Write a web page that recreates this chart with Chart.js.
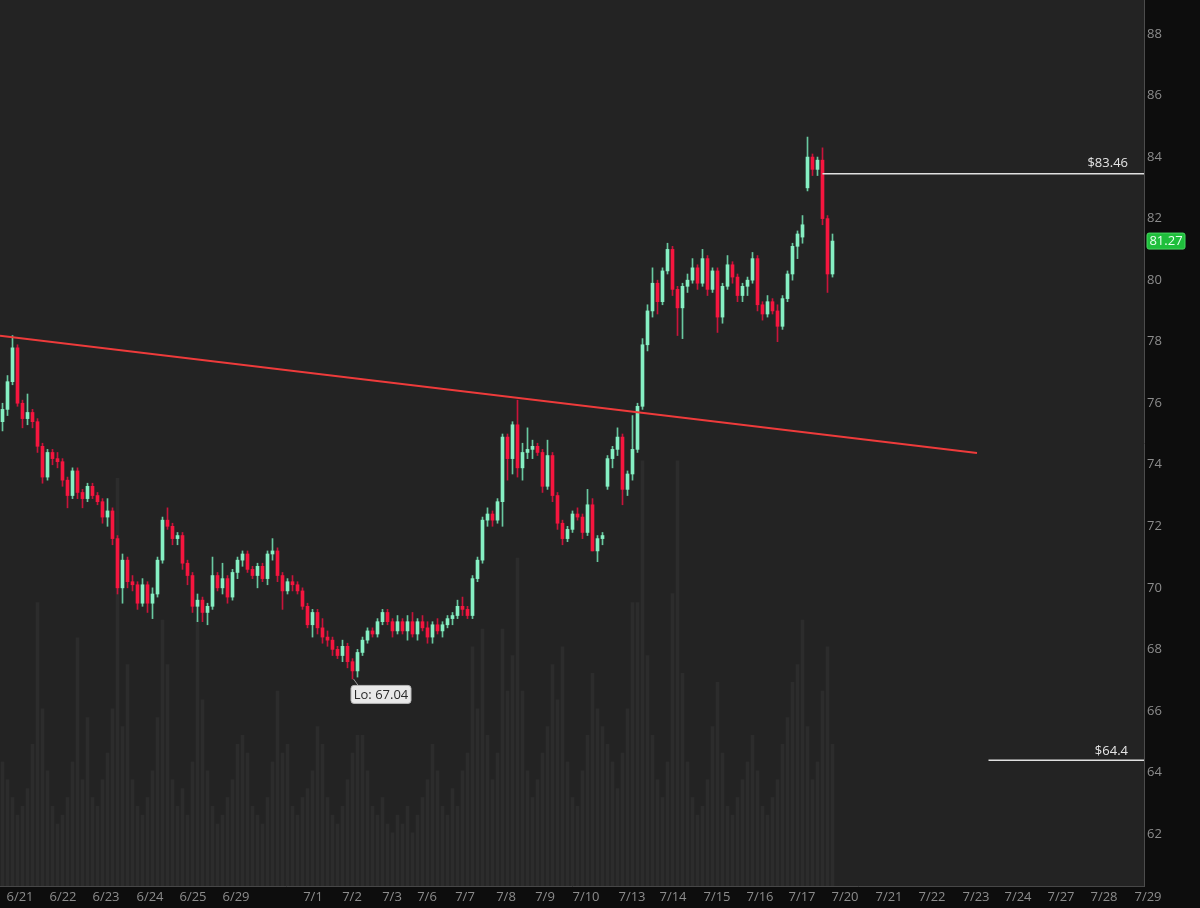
<!DOCTYPE html>
<html>
<head>
<meta charset="utf-8">
<title>Price chart</title>
<script src="https://cdn.jsdelivr.net/npm/chart.js@4.4.1/dist/chart.umd.min.js"></script>
<style>
  html, body { margin: 0; padding: 0; background: #0d0d0d; }
  #wrap { width: 1200px; height: 908px; position: relative; }
</style>
</head>
<body>
<div id="wrap"><canvas id="priceChart"></canvas></div>
<script>
// Candles (one per bar)
var opens = [
  75.4, 75.8, 76.7, 77.8, 76.0, 75.5, 75.7, 75.4, 74.6, 73.6,
  74.4, 74.2, 74.1, 73.5, 73.0, 73.8, 73.1, 72.9, 73.3, 73.0,
  72.8, 72.3, 72.5, 71.6, 70.0, 70.9, 70.2, 70.1, 69.5, 70.1,
  69.5, 69.8, 70.9, 72.2, 72.0, 71.6, 71.7, 70.8, 70.4, 69.4,
  69.6, 69.2, 69.4, 70.4, 70.0, 70.3, 69.7, 70.5, 70.9, 71.1,
  70.6, 70.4, 70.7, 70.3, 71.1, 71.2, 70.4, 69.9, 70.2, 70.1,
  69.9, 69.4, 68.8, 69.2, 68.7, 68.4, 68.3, 68.0, 67.8, 68.1,
  67.6, 67.3, 67.9, 68.3, 68.6, 68.5, 68.9, 69.2, 68.9, 68.6,
  68.9, 68.6, 68.9, 68.5, 68.9, 68.7, 68.4, 68.8, 68.6, 68.8,
  69.0, 69.1, 69.4, 69.3, 69.1, 70.3, 70.9, 72.2, 72.4, 72.2,
  72.8, 74.9, 74.2, 75.3, 73.9, 74.4, 74.5, 74.6, 74.4, 73.3,
  74.3, 73.0, 72.1, 71.6, 71.9, 72.4, 72.3, 71.8, 72.7, 71.2,
  71.6, 73.3, 74.2, 74.5, 74.9, 73.2, 73.7, 74.5, 75.9, 77.9,
  79.0, 79.9, 79.3, 80.3, 81.0, 79.7, 79.1, 79.8, 80.0, 80.4,
  79.9, 80.7, 79.7, 80.3, 78.8, 79.8, 80.5, 80.1, 79.5, 79.8,
  80.0, 80.7, 79.2, 78.9, 79.3, 79.0, 78.5, 79.4, 80.2, 81.1,
  81.4, 83.0, 84.0, 83.6, 83.9, 82.0, 80.2
];
var highs = [
  76.0, 76.9, 78.2, 77.9, 76.1, 76.3, 75.8, 75.5, 74.7, 74.5,
  74.5, 74.4, 74.2, 73.6, 73.9, 73.9, 73.2, 73.4, 73.4, 73.1,
  72.9, 72.9, 72.6, 71.7, 71.1, 71.0, 70.4, 70.2, 70.3, 70.2,
  70.0, 71.0, 72.3, 72.6, 72.1, 71.8, 71.8, 70.9, 70.5, 69.8,
  69.7, 69.5, 71.0, 70.5, 70.8, 70.4, 70.6, 71.0, 71.2, 71.2,
  70.7, 70.8, 70.8, 71.2, 71.6, 71.3, 70.5, 70.3, 70.4, 70.2,
  70.0, 69.5, 69.3, 69.3, 69.0, 68.6, 68.4, 68.1, 68.3, 68.2,
  67.7, 68.0, 68.4, 68.7, 68.7, 69.0, 69.3, 69.3, 69.0, 69.1,
  69.0, 69.1, 69.2, 69.0, 69.1, 68.9, 68.9, 69.0, 68.9, 69.1,
  69.2, 69.6, 69.7, 69.4, 70.4, 71.0, 72.3, 72.6, 72.5, 72.9,
  75.0, 75.0, 75.4, 76.1, 74.7, 75.2, 74.8, 74.7, 74.5, 74.8,
  74.4, 73.1, 72.2, 72.0, 72.5, 72.6, 72.4, 73.2, 72.9, 71.7,
  71.8, 74.3, 74.6, 75.2, 75.0, 73.8, 75.6, 76.0, 78.1, 79.2,
  80.4, 80.0, 80.4, 81.2, 81.1, 79.8, 79.9, 80.2, 80.7, 80.5,
  81.0, 80.8, 80.4, 80.4, 79.9, 80.8, 80.6, 80.2, 79.9, 80.1,
  80.9, 80.8, 79.3, 79.5, 79.4, 79.2, 79.5, 80.3, 81.2, 81.6,
  82.1, 84.65, 84.1, 84.0, 84.3, 82.1, 81.5
];
var lows = [
  75.1, 75.6, 76.6, 75.9, 75.2, 75.3, 75.2, 74.4, 73.4, 73.5,
  74.0, 73.9, 73.3, 72.6, 72.9, 72.9, 72.6, 72.8, 72.9, 72.7,
  72.1, 72.0, 71.4, 69.8, 69.5, 70.0, 69.9, 69.3, 69.4, 69.2,
  69.0, 69.7, 70.8, 71.9, 71.4, 71.4, 70.6, 70.1, 69.2, 68.9,
  68.9, 68.8, 69.3, 69.9, 69.8, 69.5, 69.6, 70.3, 70.7, 70.5,
  70.3, 70.0, 70.2, 70.1, 70.9, 70.2, 69.3, 69.8, 69.9, 69.8,
  69.3, 68.7, 68.4, 68.5, 68.2, 68.1, 67.8, 67.7, 67.6, 67.4,
  67.04, 67.1, 67.8, 68.2, 68.4, 68.4, 68.8, 68.8, 68.4, 68.5,
  68.5, 68.3, 68.4, 68.3, 68.6, 68.2, 68.2, 68.5, 68.4, 68.7,
  68.8, 69.0, 69.1, 69.0, 69.0, 70.2, 70.8, 72.0, 72.0, 72.1,
  72.0, 73.5, 73.7, 73.6, 73.5, 74.2, 74.2, 74.3, 73.1, 73.2,
  72.8, 71.9, 71.4, 71.5, 71.8, 72.2, 71.6, 71.7, 71.2, 70.85,
  71.4, 73.2, 73.9, 74.3, 72.7, 73.0, 73.5, 74.4, 75.8, 77.7,
  78.8, 78.9, 79.2, 80.2, 79.5, 78.2, 78.1, 79.6, 79.9, 79.7,
  79.8, 79.5, 79.6, 78.3, 78.6, 79.7, 79.9, 79.3, 79.3, 79.5,
  79.9, 79.0, 78.7, 78.8, 78.9, 78.0, 78.4, 79.3, 80.0, 80.7,
  81.2, 82.9, 83.4, 83.4, 81.8, 79.6, 80.1
];
var closes = [
  75.8, 76.7, 77.8, 76.0, 75.5, 75.7, 75.4, 74.6, 73.6, 74.4,
  74.2, 74.1, 73.5, 73.0, 73.8, 73.1, 72.9, 73.3, 73.0, 72.8,
  72.3, 72.5, 71.6, 70.0, 70.9, 70.2, 70.1, 69.5, 70.1, 69.5,
  69.8, 70.9, 72.2, 72.0, 71.6, 71.7, 70.8, 70.4, 69.4, 69.6,
  69.2, 69.4, 70.4, 70.0, 70.3, 69.7, 70.5, 70.9, 71.1, 70.6,
  70.4, 70.7, 70.3, 71.1, 71.2, 70.4, 69.9, 70.2, 70.1, 69.9,
  69.4, 68.8, 69.2, 68.7, 68.4, 68.3, 68.0, 67.8, 68.1, 67.6,
  67.3, 67.9, 68.3, 68.6, 68.5, 68.9, 69.2, 68.9, 68.6, 68.9,
  68.6, 68.9, 68.5, 68.9, 68.7, 68.4, 68.8, 68.6, 68.8, 69.0,
  69.1, 69.4, 69.3, 69.1, 70.3, 70.9, 72.2, 72.4, 72.2, 72.8,
  74.9, 74.2, 75.3, 73.9, 74.4, 74.5, 74.6, 74.4, 73.3, 74.3,
  73.0, 72.1, 71.6, 71.9, 72.4, 72.3, 71.8, 72.7, 71.2, 71.6,
  71.7, 74.2, 74.5, 74.9, 73.2, 73.7, 74.5, 75.9, 77.9, 79.0,
  79.9, 79.3, 80.3, 81.0, 79.7, 79.1, 79.8, 80.0, 80.4, 79.9,
  80.7, 79.7, 80.3, 78.8, 79.8, 80.5, 80.1, 79.5, 79.8, 80.0,
  80.7, 79.2, 78.9, 79.3, 79.0, 78.5, 79.4, 80.2, 81.1, 81.5,
  81.8, 84.0, 83.6, 83.9, 82.0, 80.2, 81.27
];
// Volume per candle (relative units, drawn on a hidden axis)
var volumes = [
  14, 12, 10, 8, 9, 11, 16, 32, 20, 13,
  9, 7, 8, 10, 14, 28, 12, 19, 10, 9,
  12, 15, 20, 46, 18, 25, 12, 9, 8, 10,
  13, 19, 30, 25, 12, 9, 11, 8, 14, 30,
  21, 13, 9, 7, 8, 10, 12, 16, 17, 15,
  9, 8, 7, 10, 14, 22, 15, 16, 9, 8,
  10, 11, 13, 18, 16, 10, 8, 7, 9, 12,
  15, 17, 17, 13, 9, 8, 10, 7, 6, 8,
  7, 9, 6, 8, 10, 12, 16, 13, 9, 8,
  11, 9, 13, 15, 27, 20, 29, 17, 12, 15,
  29, 22, 26, 37, 22, 13, 10, 12, 15, 18,
  25, 21, 27, 14, 10, 9, 13, 17, 24, 20,
  18, 16, 14, 11, 15, 20, 32, 32, 48, 26,
  17, 12, 10, 14, 33, 48, 24, 14, 10, 8,
  9, 12, 18, 23, 15, 9, 8, 10, 12, 14,
  17, 13, 9, 8, 10, 12, 16, 19, 23, 25,
  30, 18, 12, 14, 22, 27, 16
];

// Date labels along the bottom and where they sit (in candle units)
var tickLabels = ["6/21", "6/22", "6/23", "6/24", "6/25", "6/29", "7/1", "7/2", "7/3", "7/6",
  "7/7", "7/8", "7/9", "7/10", "7/13", "7/14", "7/15", "7/16", "7/17", "7/20",
  "7/21", "7/22", "7/23", "7/24", "7/27", "7/28", "7/29"];
var tickAt = [3.5, 12.1, 20.7, 29.5, 38.1, 46.7, 62.1, 69.9, 77.9, 84.9,
  92.5, 100.7, 108.5, 116.7, 125.9, 134.1, 142.9, 151.5, 159.9, 168.5,
  177.3, 185.9, 194.7, 203.1, 211.7, 220.3, 229.1];
var priceTicks = [62, 64, 66, 68, 70, 72, 74, 76, 78, 80, 82, 84, 86, 88];

// Drawn levels
var trendX = [-0.5, 194.9];
var trendY = [78.19, 74.38];
var resistance = 83.46;
var resistanceFrom = 164;
var support = 64.4;
var supportFrom = 197.2;
var lastPrice = 81.27;
var lowValue = 67.04;
var lowIndex = 70;

var upColor = "#86efc3";
var downColor = "#f5163f";
var xMin = -0.5, xMax = 228.3;

function candleColor(ctx) {
    var i = ctx.dataIndex;
    return closes[i] >= opens[i] ? upColor : downColor;
}
function wickColor(ctx) {
    var i = ctx.dataIndex;
    return closes[i] >= opens[i] ? "#69c9a0" : "#c8143a";
}

var wickData = closes.map((c, i) => ({ x: i, y: [lows[i], highs[i]] }));
var bodyData = closes.map((c, i) => ({ x: i, y: [opens[i], closes[i]] }));
var volData = volumes.map((v, i) => ({ x: i, y: v }));

// Paints the dark axis strip and the lighter plot area
var backgroundPlugin = {
    id: "bgPaint",
    beforeDraw(chart) {
        var ctx = chart.ctx, a = chart.chartArea;
        ctx.save();
        ctx.fillStyle = "#0d0d0d";
        ctx.fillRect(0, 0, chart.width, chart.height);
        ctx.fillStyle = "#232323";
        ctx.fillRect(a.left, a.top, a.right - a.left, a.bottom - a.top);
        ctx.restore();
    }
};

function roundBox(ctx, x, y, w, h, r) {
    ctx.beginPath();
    ctx.moveTo(x + r, y);
    ctx.lineTo(x + w - r, y);
    ctx.quadraticCurveTo(x + w, y, x + w, y + r);
    ctx.lineTo(x + w, y + h - r);
    ctx.quadraticCurveTo(x + w, y + h, x + w - r, y + h);
    ctx.lineTo(x + r, y + h);
    ctx.quadraticCurveTo(x, y + h, x, y + h - r);
    ctx.lineTo(x, y + r);
    ctx.quadraticCurveTo(x, y, x + r, y);
    ctx.closePath();
}

// Level labels, last price tag and the low marker
var overlayPlugin = {
    id: "overlay",
    afterDraw(chart) {
        var ctx = chart.ctx, a = chart.chartArea;
        var xs = chart.scales.x, ys = chart.scales.y;
        ctx.save();
        ctx.font = '13px "Open Sans", sans-serif';
        ctx.textAlign = "right";
        ctx.textBaseline = "middle";
        ctx.fillStyle = "#e4e4e4";
        ctx.fillText("$" + resistance, a.right - 16, ys.getPixelForValue(resistance) - 10);
        ctx.fillText("$" + support, a.right - 16, ys.getPixelForValue(support) - 9);

        // green tag for the last price
        var py = ys.getPixelForValue(lastPrice);
        ctx.fillStyle = "#1fbf3c";
        roundBox(ctx, a.right + 3, py - 8, 38, 16, 2);
        ctx.fill();
        ctx.strokeStyle = "#49d862";
        ctx.lineWidth = 1;
        ctx.stroke();
        ctx.fillStyle = "#eafff0";
        ctx.textAlign = "center";
        ctx.fillText(lastPrice.toFixed(2), a.right + 22, py + 0.5);

        // low marker
        var lx = xs.getPixelForValue(lowIndex), ly = ys.getPixelForValue(lowValue);
        ctx.strokeStyle = "#9a9a9a";
        ctx.beginPath();
        ctx.moveTo(lx + 1, ly);
        ctx.lineTo(lx + 6, ly + 7);
        ctx.stroke();
        ctx.fillStyle = "#e9e9e9";
        roundBox(ctx, lx - 1.5, ly + 6.5, 60, 18, 3);
        ctx.fill();
        ctx.strokeStyle = "#b5b5b5";
        ctx.stroke();
        ctx.fillStyle = "#2a2a2a";
        ctx.textAlign = "center";
        ctx.fillText("Lo: " + lowValue.toFixed(2), lx + 28.5, ly + 16);
        ctx.restore();
    }
};

new Chart("priceChart", {
    type: "bar",
    data: {
        datasets: [
            {
                type: "line",
                data: [{ x: trendX[0], y: trendY[0] }, { x: trendX[1], y: trendY[1] }],
                borderColor: "#ee3b3b",
                borderWidth: 2,
                pointRadius: 0,
                order: 0
            },
            {
                type: "line",
                data: [{ x: resistanceFrom, y: resistance }, { x: xMax, y: resistance }],
                borderColor: "#e0e0e0",
                borderWidth: 1.5,
                pointRadius: 0,
                order: 0
            },
            {
                type: "line",
                data: [{ x: supportFrom, y: support }, { x: xMax, y: support }],
                borderColor: "#e0e0e0",
                borderWidth: 1.5,
                pointRadius: 0,
                order: 0
            },
            {
                data: bodyData,
                backgroundColor: candleColor,
                barThickness: 3,
                minBarLength: 1,
                grouped: false,
                borderWidth: 0,
                order: 1
            },
            {
                data: wickData,
                backgroundColor: wickColor,
                barThickness: 1,
                grouped: false,
                borderWidth: 0,
                order: 2
            },
            {
                data: volData,
                yAxisID: "yVol",
                backgroundColor: "#2c2c2c",
                barThickness: 3,
                grouped: false,
                borderWidth: 0,
                order: 3
            }
        ]
    },
    options: {
        responsive: true,
        maintainAspectRatio: false,
        animation: false,
        layout: { padding: 0 },
        plugins: {
            legend: { display: false },
            tooltip: { enabled: false }
        },
        scales: {
            x: {
                type: "linear",
                min: xMin,
                max: xMax,
                offset: false,
                grid: { display: false, drawTicks: false },
                border: { color: "#474747", width: 1 },
                afterBuildTicks: s => { s.ticks = tickAt.map(v => ({ value: v })); },
                afterFit: s => { s.height = 22; s.paddingLeft = 0; s.paddingRight = 0; },
                ticks: {
                    autoSkip: false,
                    maxRotation: 0,
                    padding: 3,
                    color: "#8c8c8c",
                    font: { family: "Open Sans", size: 13 },
                    callback: (v, i) => tickLabels[i]
                }
            },
            y: {
                position: "right",
                min: 60.31,
                max: 89.105,
                grid: { display: false, drawTicks: false },
                border: { color: "#4c4c4c", width: 1 },
                afterBuildTicks: s => { s.ticks = priceTicks.map(v => ({ value: v })); },
                afterFit: s => { s.width = 56; s.paddingTop = 0; s.paddingBottom = 0; },
                ticks: {
                    padding: 3,
                    color: "#8c8c8c",
                    font: { family: "Open Sans", size: 13 },
                    callback: v => String(v)
                }
            },
            yVol: {
                display: false,
                min: 0,
                max: 100
            }
        }
    },
    plugins: [backgroundPlugin, overlayPlugin]
});
</script>
</body>
</html>
